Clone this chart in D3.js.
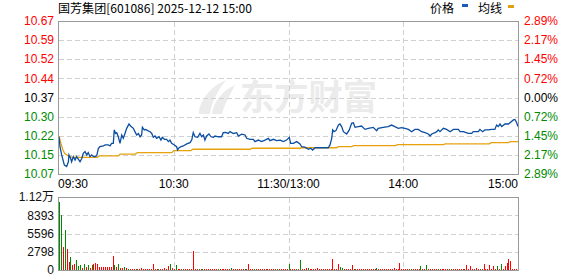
<!DOCTYPE html>
<html>
<head>
<meta charset="utf-8">
<script src="https://cdn.jsdelivr.net/npm/d3@7/dist/d3.min.js"></script>
<style>
  html, body { margin: 0; padding: 0; background: #fff; }
  svg { display: block; font-family: "Liberation Sans", Arial, sans-serif; }
</style>
</head>
<body>
<svg id="chart" width="578" height="276"></svg>
<script>
/* 国芳集团 分时图：价格线 + 均线 + 成交量 */
var titleText = '国芳集团[601086] 2025-12-12 15:00';
var preClose = 10.37;

// 左右两侧刻度（价格 / 涨跌幅）
var pctTicks = [2.89, 2.17, 1.45, 0.72, 0, -0.72, -1.45, -2.17, -2.89];
var priceLabels = ['10.67', '10.59', '10.52', '10.44', '10.37', '10.30', '10.22', '10.15', '10.07'];
var pctLabels = ['2.89%', '2.17%', '1.45%', '0.72%', '0.00%', '0.72%', '1.45%', '2.17%', '2.89%'];

// 时间轴（分钟序号 0..240）
var timeMins = [0, 60, 120, 180, 240];
var timeLabels = ['09:30', '10:30', '11:30/13:00', '14:00', '15:00'];

// 成交量刻度
var volTicks = [11192, 8393, 5596, 2798, 0];
var volLabels = ['1.12万', '8393', '5596', '2798', '0'];

// 价格 [分钟, 价格]
var pricePts = [
  [0, 10.216], [0.5, 10.177], [1.4, 10.145], [2.8, 10.105], [4, 10.099], [4.9, 10.118], [5.2, 10.145],
  [6.1, 10.131], [6.6, 10.118], [7.5, 10.138], [8.4, 10.125], [9.2, 10.138], [10.1, 10.128], [11, 10.118],
  [11.9, 10.131], [12.7, 10.151], [13.6, 10.158], [14.5, 10.145], [15.3, 10.154], [16.2, 10.138],
  [17.1, 10.145], [18, 10.138], [18.8, 10.138], [19.7, 10.141], [20.6, 10.171], [21.4, 10.177],
  [23.2, 10.18], [24.1, 10.184], [25.8, 10.184], [26.7, 10.18], [27.5, 10.19], [28.4, 10.19],
  [28.9, 10.243], [29.6, 10.229], [30.2, 10.232], [31, 10.216], [31.9, 10.19], [32.8, 10.223],
  [33.6, 10.21], [34.5, 10.229], [35.4, 10.249], [36.6, 10.266], [37.7, 10.256], [38.9, 10.249],
  [39.7, 10.236], [40.6, 10.223], [41.5, 10.229], [42.4, 10.216], [43.2, 10.223], [43.6, 10.253],
  [44.6, 10.243], [45.3, 10.245], [46.4, 10.24], [47.6, 10.236], [48.5, 10.229], [49.3, 10.214],
  [50.2, 10.219], [51.1, 10.21], [52.3, 10.216], [53.3, 10.203], [54, 10.214], [55.1, 10.206],
  [56.3, 10.206], [57.2, 10.197], [58, 10.203], [58.9, 10.19], [60.3, 10.184], [61.5, 10.177],
  [62, 10.164], [62.8, 10.173], [63.8, 10.177], [65, 10.18], [66.8, 10.188], [68.5, 10.193],
  [69.4, 10.203], [70.2, 10.232], [71.1, 10.216], [72.5, 10.214], [73.7, 10.229], [74.6, 10.216],
  [75.5, 10.223], [76.3, 10.203], [77.2, 10.219], [78.4, 10.227], [79.5, 10.216], [80.7, 10.214],
  [81.6, 10.219], [83.3, 10.216], [85, 10.216], [85.9, 10.232], [87.2, 10.233], [88.5, 10.229],
  [89.4, 10.236], [91.2, 10.229], [92.9, 10.232], [93.8, 10.219], [95.5, 10.226], [97.3, 10.223],
  [98.1, 10.21], [99.9, 10.206], [101.6, 10.206], [102.5, 10.197], [104.2, 10.203], [106, 10.197],
  [107.7, 10.203], [109.5, 10.21], [110.3, 10.201], [112.1, 10.206], [113.8, 10.201], [115.6, 10.203],
  [117.3, 10.197], [119, 10.203], [120.4, 10.214], [121.1, 10.19], [122.5, 10.19], [124.3, 10.197],
  [126, 10.188], [126.9, 10.177], [128.6, 10.175], [130.4, 10.167], [131.6, 10.171], [132.6, 10.164],
  [133.9, 10.173], [135.6, 10.173], [138.2, 10.173], [140.8, 10.173], [141.7, 10.184], [142.6, 10.21],
  [143.1, 10.243], [143.8, 10.236], [144.8, 10.24], [146.1, 10.262], [146.9, 10.266], [147.8, 10.256],
  [148.7, 10.236], [150.4, 10.227], [151.8, 10.243], [153, 10.269], [153.9, 10.271], [154.8, 10.253],
  [156.5, 10.256], [158.2, 10.258], [160, 10.245], [161.7, 10.249], [164.3, 10.253], [166.1, 10.24],
  [166.9, 10.249], [169.5, 10.253], [172.1, 10.256], [173.9, 10.262], [175.6, 10.256], [177.4, 10.249],
  [179.1, 10.252], [180.9, 10.249], [182.7, 10.245], [184.4, 10.236], [186.1, 10.245], [187.9, 10.245],
  [189.6, 10.236], [191.4, 10.232], [193.1, 10.227], [194, 10.219], [194.9, 10.227], [196.6, 10.232],
  [197.5, 10.236], [198.3, 10.243], [199.2, 10.236], [201, 10.249], [202.7, 10.245], [204.5, 10.236],
  [206.2, 10.245], [208.8, 10.245], [209.7, 10.236], [211.4, 10.236], [214, 10.229], [215.8, 10.229],
  [216.6, 10.236], [219.3, 10.236], [220.1, 10.245], [221.5, 10.236], [222.7, 10.243], [224.5, 10.243],
  [226.2, 10.245], [227.9, 10.245], [228.8, 10.262], [229.7, 10.256], [230.6, 10.266], [231.5, 10.256],
  [233.2, 10.266], [235, 10.266], [235.8, 10.271], [237.6, 10.282], [238.4, 10.284], [239.3, 10.271],
  [240, 10.256]
];

// 均价 [分钟, 价格]
var avgPts = [
  [0, 10.219], [1, 10.19], [2, 10.165], [3, 10.15], [5, 10.14], [7, 10.135], [20, 10.135], [21, 10.141],
  [31, 10.141], [32, 10.148], [40, 10.148], [41, 10.154], [59, 10.154], [60, 10.162], [69, 10.162],
  [70, 10.167], [100, 10.167], [101, 10.171], [126, 10.171], [127, 10.173], [145, 10.173], [146, 10.177],
  [153, 10.177], [154, 10.181], [176, 10.181], [177, 10.185], [201, 10.185], [202, 10.188], [225, 10.188],
  [226, 10.193], [235, 10.193], [236, 10.197], [240, 10.197]
];

// 每分钟成交量（手）
var volumes = [
  10470, 8430, 3530, 6130, 3220, 1180, 1990, 770, 870, 1480,
  660, 770, 310, 920, 460, 770, 310, 770, 920, 1070,
  920, 500, 500, 500, 500, 500, 500, 500, 2190, 770,
  460, 920, 300, 300, 460, 300, 150, 150, 150, 150,
  150, 150, 150, 300, 150, 150, 150, 150, 150, 920,
  150, 150, 150, 150, 150, 350, 150, 570, 920, 300,
  150, 770, 150, 150, 150, 150, 150, 150, 150, 150,
  2950, 150, 150, 150, 150, 150, 150, 150, 150, 150,
  150, 150, 150, 150, 150, 150, 150, 150, 150, 150,
  300, 150, 150, 150, 150, 150, 150, 150, 150, 920,
  150, 150, 150, 150, 150, 150, 150, 150, 150, 150,
  150, 150, 150, 150, 150, 150, 150, 150, 150, 150,
  920, 150, 150, 150, 150, 150, 1530, 150, 150, 300,
  300, 150, 150, 150, 150, 300, 150, 150, 150, 150,
  150, 150, 150, 1690, 150, 150, 920, 460, 300, 150,
  150, 150, 150, 770, 150, 150, 150, 150, 150, 150,
  150, 150, 150, 150, 150, 150, 300, 150, 150, 150,
  150, 150, 150, 150, 150, 300, 150, 150, 1070, 150,
  150, 150, 150, 150, 150, 150, 150, 150, 150, 610,
  150, 150, 770, 150, 150, 150, 150, 150, 150, 150,
  150, 150, 150, 150, 150, 150, 150, 150, 150, 150,
  150, 150, 150, 770, 150, 610, 150, 150, 300, 150,
  150, 150, 920, 150, 150, 770, 150, 610, 150, 610,
  150, 920, 150, 610, 1070, 1690, 1380, 150, 150, 150,
  5830
];
// r = 上涨(红) g = 下跌(绿)
var volDir =
  'ggrgrrgrrg' + 'ggrgrgrgrr' + 'rrrrrrrrrg' + 'rgrrgrgrrr' + 'rgrrrrrrrr' +
  'rrgrrrrrgr' + 'rgrrrgrrrr' + 'rrrgrgrrrr' + 'rrrgrrrrrr' + 'grrrrrrgrr' +
  'rrgrrrrrgr' + 'rrrrgrrrrr' + 'grrrgrgrrr' + 'grrrrrrrrr' + 'rrrrrrrggr' +
  'rrrrrgrrrr' + 'rrrrrrgrrr' + 'rrrrrrrrrr' + 'rrrrgrrrrg' + 'rrgrrrrrgr' +
  'rrrrrgrrrr' + 'rrrrrrrrrr' + 'grrrrrrrrg' + 'rgrrrrrrrr' + 'g';

var W = 578, H = 276;
var L = 58, R = 518;
var PT = 21, PB = 174;     // 价格区
var VT = 197, VB = 270;    // 成交量区
var RED = '#ff0000', GREEN = '#008a00';

var svg = d3.select('#chart');

var x = d3.scaleLinear().domain([0, 240]).range([L + 1, R]);
var yPrice = d3.scaleLinear().domain([10.07, 10.67]).range([PB, PT]);
var yPct = function (p) { return yPrice(preClose * (1 + p / 100)); };
var yVol = d3.scaleLinear().domain([0, 11192]).range([VB, VT]);

function lblColor(p) { return p > 0 ? RED : (p < 0 ? GREEN : '#000'); }

// ----- 水印 -----
var wm = svg.append('g').attr('fill', '#ebebeb');
wm.append('path').attr('d', 'M199,114 C199,101 210,87 226,80 C218,90 212,101 210,114 Z');
wm.append('path').attr('d', 'M212,114 C213,102 223,90 235,85 C230,95 224,105 222,114 Z');
wm.append('text').attr('x', 240).attr('y', 110)
  .attr('font-family', '"Noto Sans CJK SC", sans-serif').attr('font-weight', 'bold')
  .attr('font-size', 35).attr('textLength', 137).attr('lengthAdjust', 'spacingAndGlyphs')
  .text('东方财富');

// ----- 网格 -----
var grid = svg.append('g').attr('stroke', '#d0d0d0').attr('stroke-dasharray', '5,3').attr('shape-rendering', 'crispEdges');
grid.selectAll('line.h').data(pctTicks.slice(1, -1)).enter().append('line')
  .attr('x1', L + 1).attr('x2', R)
  .attr('y1', function (d) { return Math.round(yPct(d)) + 0.5; })
  .attr('y2', function (d) { return Math.round(yPct(d)) + 0.5; });
grid.selectAll('line.v').data(timeMins.slice(1, -1)).enter().append('line')
  .attr('y1', PT + 1).attr('y2', PB)
  .attr('x1', function (d) { return Math.round(x(d)) + 0.5; })
  .attr('x2', function (d) { return Math.round(x(d)) + 0.5; });
grid.selectAll('line.vh').data(volTicks.slice(1, -1)).enter().append('line')
  .attr('x1', L + 1).attr('x2', R)
  .attr('y1', function (d) { return Math.round(yVol(d)) + 0.5; })
  .attr('y2', function (d) { return Math.round(yVol(d)) + 0.5; });
grid.selectAll('line.vv').data(timeMins.slice(1, -1)).enter().append('line')
  .attr('y1', VT + 1).attr('y2', VB)
  .attr('x1', function (d) { return Math.round(x(d)) + 0.5; })
  .attr('x2', function (d) { return Math.round(x(d)) + 0.5; });

// ----- 成交量柱 -----
svg.append('g').attr('shape-rendering', 'crispEdges').selectAll('rect').data(volumes).enter().append('rect')
  .attr('x', function (d, i) { return Math.round(x(i)); })
  .attr('width', 1)
  .attr('y', function (d) { return yVol(d); })
  .attr('height', function (d) { return VB - yVol(d); })
  .attr('fill', function (d, i) { return volDir[i] === 'r' ? RED : GREEN; });

// ----- 均线、价格线 -----
var line = d3.line().x(function (d) { return x(d[0]); }).y(function (d) { return yPrice(d[1]); });
svg.append('path').datum(avgPts).attr('d', line).attr('fill', 'none').attr('stroke', '#e6a10c').attr('stroke-width', 1.3);
svg.append('path').datum(pricePts).attr('d', line).attr('fill', 'none').attr('stroke', '#0b4ea2').attr('stroke-width', 1.3);

// ----- 边框 -----
svg.append('rect').attr('x', L + 0.5).attr('y', PT + 0.5).attr('width', R - L).attr('height', PB - PT)
  .attr('fill', 'none').attr('stroke', '#999');
svg.append('rect').attr('x', L + 0.5).attr('y', VT + 0.5).attr('width', R - L).attr('height', VB - VT)
  .attr('fill', 'none').attr('stroke', '#999');

// ----- 刻度文字 -----
var fs = 12;
svg.append('g').selectAll('text').data(pctTicks).enter().append('text')
  .attr('x', 54).attr('y', function (d) { return yPct(d); }).attr('dy', '0.36em')
  .attr('text-anchor', 'end').attr('font-size', fs)
  .attr('fill', function (d) { return lblColor(d); })
  .text(function (d, i) { return priceLabels[i]; });
svg.append('g').selectAll('text').data(pctTicks).enter().append('text')
  .attr('x', 524).attr('y', function (d) { return yPct(d); }).attr('dy', '0.36em')
  .attr('font-size', fs)
  .attr('fill', function (d) { return lblColor(d); })
  .text(function (d, i) { return pctLabels[i]; });
svg.append('g').selectAll('text').data(volTicks).enter().append('text')
  .attr('x', 54).attr('y', function (d) { return yVol(d); }).attr('dy', '0.36em')
  .attr('text-anchor', 'end').attr('font-size', fs).attr('fill', '#111')
  .attr('font-family', function (d, i) { return i === 0 ? '"Liberation Sans", "Noto Sans CJK SC", sans-serif' : null; })
  .text(function (d, i) { return volLabels[i]; });
svg.append('g').selectAll('text').data(timeMins).enter().append('text')
  .attr('x', function (d, i) { return i === 0 ? L : (i === timeMins.length - 1 ? R : x(d)); })
  .attr('y', 188).attr('font-size', fs).attr('fill', '#000')
  .attr('text-anchor', function (d, i) { return i === 0 ? 'start' : (i === timeMins.length - 1 ? 'end' : 'middle'); })
  .text(function (d, i) { return timeLabels[i]; });

// ----- 标题与图例 -----
svg.append('text').attr('x', 58).attr('y', 13)
  .attr('font-family', '"Noto Sans CJK SC", sans-serif').attr('font-size', 12).attr('fill', '#000')
  .attr('textLength', 194).attr('lengthAdjust', 'spacingAndGlyphs')
  .text(titleText);
var lg = svg.append('g').attr('font-family', '"Noto Sans CJK SC", sans-serif').attr('font-size', 12).attr('fill', '#000');
lg.append('text').attr('x', 430).attr('y', 13).text('价格');
lg.append('rect').attr('x', 462).attr('y', 4).attr('width', 6).attr('height', 3).attr('fill', '#1c5bb5');
lg.append('text').attr('x', 478).attr('y', 13).text('均线');
lg.append('rect').attr('x', 508).attr('y', 5).attr('width', 6).attr('height', 3).attr('fill', '#e0a010');
</script>
</body>
</html>
